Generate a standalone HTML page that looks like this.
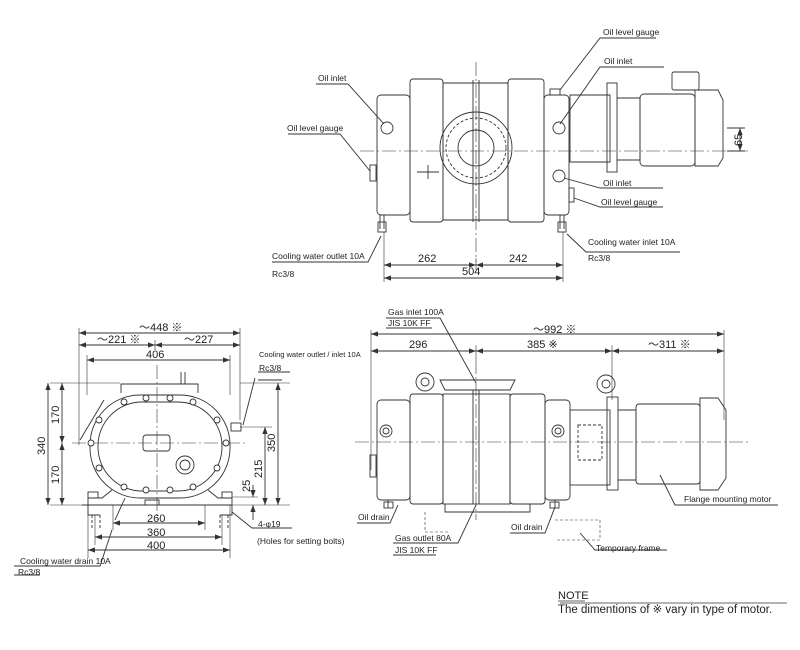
<!DOCTYPE html>
<html><head><meta charset="utf-8"><style>
html,body{margin:0;padding:0;background:#fff;}
svg{display:block;font-family:"Liberation Sans",sans-serif;}
text{font-size:8.5px;fill:#222;}
.d{font-size:11px;}
</style></head><body>
<svg width="800" height="650" viewBox="0 0 800 650" xmlns="http://www.w3.org/2000/svg">
<defs><marker id="a" viewBox="0 0 8 6" refX="8" refY="3" markerWidth="8" markerHeight="6" orient="auto-start-reverse"><path d="M0,0L8,3L0,6z" fill="#333"/></marker></defs>
<g fill="none" stroke="#333" stroke-width="0.9">
<!-- TOP VIEW -->
<line x1="360" y1="151" x2="748" y2="151" stroke-dasharray="14,3,2,3" stroke-width="0.6"/>
<line x1="476" y1="62" x2="476" y2="262" stroke-dasharray="14,3,2,3" stroke-width="0.6"/>
<rect x="377" y="95" width="33" height="120" rx="4"/>
<rect x="410" y="79" width="33" height="143" rx="3"/>
<path d="M443,83 H508 V220 H443 Z"/>
<line x1="473" y1="80" x2="473" y2="222"/><line x1="479" y1="80" x2="479" y2="222"/>
<rect x="508" y="79" width="36" height="143" rx="3"/>
<rect x="544" y="95" width="25" height="120" rx="4"/>
<circle cx="476" cy="148" r="36"/><circle cx="476" cy="148" r="30" stroke-dasharray="3,2"/><circle cx="476" cy="148" r="18"/>
<circle cx="387" cy="128" r="6"/><circle cx="559" cy="128" r="6"/><circle cx="559" cy="176" r="6"/>
<path d="M417,172 h22 M428,165 v14"/>
<rect x="370" y="165" width="6" height="16"/><rect x="569" y="188" width="5" height="14"/>
<rect x="550" y="89" width="10" height="6"/>
<rect x="570" y="93" width="38" height="120" rx="2" stroke="none"/>
<path d="M570,95 H610 V162 H570 Z"/>
<rect x="607" y="83" width="10" height="89"/>
<path d="M617,98 H640 V160 H617"/>
<rect x="640" y="94" width="55" height="72" rx="4"/>
<path d="M695,90 H718 L723,100 V158 L718,166 H695 Z"/>
<rect x="672" y="72" width="27" height="18" rx="2"/>
<path d="M727,128 H745 M727,151 H745"/>
<line x1="740" y1="128" x2="740" y2="151" marker-start="url(#a)" marker-end="url(#a)"/>
<path d="M380,215 v14 M384,215 v14 M560,215 v14 M564,215 v14"/>
<rect x="378" y="222" width="8" height="10"/><rect x="558" y="222" width="8" height="10"/>
<path d="M384,232 V282 M563,232 V282 M476,258 V270" stroke-width="0.6"/>
<line x1="384" y1="265" x2="476" y2="265" marker-start="url(#a)" marker-end="url(#a)"/>
<line x1="476" y1="265" x2="563" y2="265" marker-start="url(#a)" marker-end="url(#a)"/>
<line x1="384" y1="278" x2="563" y2="278" marker-start="url(#a)" marker-end="url(#a)"/>
<!-- leaders top -->
<path d="M316,84 H348 L384,124 M288,134 H340 L370,171 M656,38 H600 L560,90 M664,67 H600 L560,124 M663,188 H600 L564,178 M663,207 H600 L574,198 M381,236 L368,262 H272 M567,234 L586,252 H680"/>
<!-- FRONT VIEW -->
<line x1="157" y1="365" x2="157" y2="520" stroke-dasharray="14,3,2,3" stroke-width="0.6"/>
<line x1="72" y1="443" x2="248" y2="443" stroke-dasharray="14,3,2,3" stroke-width="0.6"/>
<rect x="90" y="395" width="140" height="103" rx="50"/>
<rect x="98" y="402" width="124" height="89" rx="44"/>
<path d="M121,393 V384 H198 V393 M181,384 V372 M185,384 V372"/>
<rect x="143" y="435" width="27" height="16" rx="3"/>
<circle cx="185" cy="465" r="9"/><circle cx="185" cy="465" r="5"/>
<g fill="#fff">
<circle cx="124" cy="402" r="3"/><circle cx="146" cy="398" r="3"/><circle cx="170" cy="398" r="3"/><circle cx="193" cy="402" r="3"/><circle cx="217" cy="420" r="3"/><circle cx="226" cy="443" r="3"/><circle cx="217" cy="468" r="3"/><circle cx="193" cy="487" r="3"/><circle cx="170" cy="490" r="3"/><circle cx="146" cy="490" r="3"/><circle cx="124" cy="487" r="3"/><circle cx="99" cy="468" r="3"/><circle cx="91" cy="443" r="3"/><circle cx="99" cy="420" r="3"/>
</g>
<path d="M82,505 H232 M88,505 V498 H102 L112,490 M232,505 V498 H218 L208,490 M88,505 V515 H100 M232,505 V515 H220 M145,505 h14 v-5 h-14 z"/>
<path d="M92,515 V530 M100,515 V530 M220,515 V530 M228,515 V530" stroke-dasharray="3,2"/>
<rect x="88" y="492" width="10" height="6"/><rect x="222" y="492" width="10" height="6"/>
<rect x="231" y="423" width="10" height="8"/>
<path d="M79,328 V445 M240,328 V420 M87,355 V395 M230,355 V395 M155,340 V350 M50,383 H120 M50,505 H90 M240,383 H290 M230,505 H290 M240,427 H272 M232,497 H258" stroke-width="0.6"/>
<line x1="79" y1="333" x2="240" y2="333" marker-start="url(#a)" marker-end="url(#a)"/>
<line x1="79" y1="345" x2="155" y2="345" marker-start="url(#a)" marker-end="url(#a)"/>
<line x1="155" y1="345" x2="240" y2="345" marker-start="url(#a)" marker-end="url(#a)"/>
<line x1="87" y1="360" x2="230" y2="360" marker-start="url(#a)" marker-end="url(#a)"/>
<line x1="48" y1="383" x2="48" y2="505" marker-start="url(#a)" marker-end="url(#a)"/>
<line x1="62" y1="383" x2="62" y2="443" marker-start="url(#a)" marker-end="url(#a)"/>
<line x1="62" y1="443" x2="62" y2="505" marker-start="url(#a)" marker-end="url(#a)"/>
<line x1="278" y1="383" x2="278" y2="505" marker-start="url(#a)" marker-end="url(#a)"/>
<line x1="265" y1="427" x2="265" y2="505" marker-start="url(#a)" marker-end="url(#a)"/>
<line x1="253" y1="485" x2="253" y2="497" marker-end="url(#a)"/>
<line x1="253" y1="520" x2="253" y2="505" marker-end="url(#a)"/>
<path d="M113,505 V530 M205,505 V530 M95,515 V545 M222,515 V545 M88,505 V558 M230,505 V558" stroke-width="0.6"/>
<line x1="113" y1="523" x2="205" y2="523" marker-start="url(#a)" marker-end="url(#a)"/>
<line x1="95" y1="537" x2="222" y2="537" marker-start="url(#a)" marker-end="url(#a)"/>
<line x1="88" y1="550" x2="230" y2="550" marker-start="url(#a)" marker-end="url(#a)"/>
<path d="M258,372 H290 M258,380 H282 M243,425 L255,378 M232,512 L252,528 H292 M125,498 L115,520 M112,530 L100,566 H14 M14,575 H40 M80,440 L98,410 M80,440 L104,400"/>
<!-- SIDE VIEW -->
<line x1="355" y1="442" x2="750" y2="442" stroke-dasharray="14,3,2,3" stroke-width="0.6"/>
<line x1="476" y1="360" x2="476" y2="520" stroke-dasharray="14,3,2,3" stroke-width="0.6"/>
<rect x="377" y="400" width="33" height="100" rx="4"/>
<rect x="410" y="394" width="33" height="110" rx="3"/>
<rect x="443" y="394" width="67" height="110"/>
<path d="M440,380 H515 L510,390 H445 Z M473,390 V504 M479,390 V504"/>
<rect x="510" y="394" width="35" height="110" rx="3"/>
<rect x="545" y="400" width="25" height="100" rx="4"/>
<circle cx="386" cy="431" r="6"/><circle cx="386" cy="431" r="3"/>
<circle cx="558" cy="431" r="6"/><circle cx="558" cy="431" r="3"/>
<circle cx="425" cy="382" r="9"/><circle cx="425" cy="382" r="4"/>
<circle cx="606" cy="384" r="9"/><circle cx="606" cy="384" r="4"/>
<rect x="570" y="410" width="40" height="75"/>
<rect x="578" y="425" width="24" height="35" stroke-dasharray="3,2"/>
<rect x="607" y="397" width="11" height="93"/>
<path d="M618,410 H636 V480 H618"/>
<rect x="636" y="404" width="64" height="80" rx="3"/>
<path d="M700,398 H718 L726,410 V478 L718,490 H700 Z"/>
<rect x="370" y="455" width="6" height="22"/>
<path d="M445,504 V512 H530 V504 M388,500 v8 M555,500 v8"/>
<rect x="384" y="502" width="9" height="6"/><rect x="550" y="502" width="9" height="6"/>
<path d="M425,512 V532 H450 M555,520 H600 V540 H555" stroke-dasharray="3,2" stroke-width="0.6"/>
<path d="M371,330 V470 M724,330 V420 M476,345 V360 M612,345 V400" stroke-width="0.6"/>
<line x1="371" y1="334" x2="724" y2="334" marker-start="url(#a)" marker-end="url(#a)"/>
<line x1="371" y1="351" x2="476" y2="351" marker-start="url(#a)" marker-end="url(#a)"/>
<line x1="476" y1="351" x2="612" y2="351" marker-start="url(#a)" marker-end="url(#a)"/>
<line x1="612" y1="351" x2="724" y2="351" marker-start="url(#a)" marker-end="url(#a)"/>
<path d="M386,318 H440 L476,383 M386,328 H432 M476,505 L458,543 H393 M393,555 H436 M398,505 L390,523 H357 M555,507 L545,533 H510 M660,475 L675,505 H778 M580,533 L595,550 H667"/>
<path d="M560,603 H787" stroke-width="0.8"/>
</g>
<!-- TEXT -->
<text x="318" y="81">Oil inlet</text>
<text x="287" y="131">Oil level gauge</text>
<text x="603" y="35">Oil level gauge</text>
<text x="604" y="64">Oil inlet</text>
<text x="603" y="186">Oil inlet</text>
<text x="601" y="205">Oil level gauge</text>
<text x="272" y="259">Cooling water outlet 10A</text>
<text x="272" y="277">Rc3/8</text>
<text x="588" y="245">Cooling water inlet    10A</text>
<text x="588" y="261">Rc3/8</text>
<text class="d" x="418" y="262">262</text>
<text class="d" x="509" y="262">242</text>
<text class="d" x="462" y="275">504</text>
<text class="d" x="742" y="146" transform="rotate(-90 742 146)">65</text>
<text class="d" x="139" y="331">～448 ※</text>
<text class="d" x="97" y="343">～221 ※</text>
<text class="d" x="184" y="343">～227</text>
<text class="d" x="146" y="358">406</text>
<text class="d" x="45" y="455" transform="rotate(-90 45 455)">340</text>
<text class="d" x="59" y="424" transform="rotate(-90 59 424)">170</text>
<text class="d" x="59" y="484" transform="rotate(-90 59 484)">170</text>
<text class="d" x="275" y="452" transform="rotate(-90 275 452)">350</text>
<text class="d" x="262" y="478" transform="rotate(-90 262 478)">215</text>
<text class="d" x="250" y="492" transform="rotate(-90 250 492)">25</text>
<text class="d" x="147" y="522">260</text>
<text class="d" x="147" y="536">360</text>
<text class="d" x="147" y="549">400</text>
<text x="259" y="357" style="font-size:7.5px">Cooling water outlet / inlet 10A</text>
<text x="259" y="371">Rc3/8</text>
<text x="258" y="527">4-φ19</text>
<text x="257" y="544">(Holes for setting bolts)</text>
<text x="20" y="564">Cooling water drain 10A</text>
<text x="18" y="575">Rc3/8</text>
<text x="388" y="315">Gas inlet   100A</text>
<text x="388" y="326">JIS 10K FF</text>
<text class="d" x="533" y="333">～992 ※</text>
<text class="d" x="409" y="348">296</text>
<text class="d" x="527" y="348">385 ※</text>
<text class="d" x="648" y="348">～311 ※</text>
<text x="358" y="520">Oil drain</text>
<text x="511" y="530">Oil drain</text>
<text x="395" y="541">Gas outlet   80A</text>
<text x="395" y="553">JIS 10K FF</text>
<text x="684" y="502">Flange mounting motor</text>
<text x="596" y="551">Temporary frame</text>
<text x="558" y="599" style="font-size:11px">NOTE</text>
<text x="558" y="613" style="font-size:11.5px">The dimentions of ※ vary in type of motor.</text>
<line x1="558" y1="601" x2="585" y2="601" stroke="#333" stroke-width="0.7"/>
</svg>
</body></html>
